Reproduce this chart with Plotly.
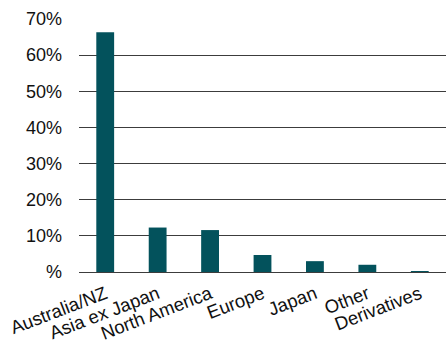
import plotly.graph_objects as go

categories = ["Australia/NZ", "Asia ex Japan", "North America", "Europe", "Japan", "Other", "Derivatives"]
values = [66.3, 12.3, 11.6, 4.7, 3.0, 2.0, 0.2]
tick_vals = [0, 10, 20, 30, 40, 50, 60, 70]
tick_text = ["%", "10%", "20%", "30%", "40%", "50%", "60%", "70%"]

fig = go.Figure(go.Bar(
    x=categories, y=values,
    marker=dict(color="#03525C", line=dict(width=0)),
))
fig.update_layout(
    width=446, height=342,
    margin=dict(l=79, r=0, t=19, b=70),
    paper_bgcolor="white", plot_bgcolor="white",
    bargap=0.66,
    showlegend=False,
    font=dict(family="Liberation Sans, Arial, sans-serif", size=16, color="#111111"),
)
fig.update_yaxes(
    range=[0, 70], tickvals=tick_vals, ticktext=tick_text,
    showgrid=True, gridcolor="#3c3c3c", gridwidth=1.3,
    zeroline=True, zerolinecolor="#3c3c3c", zerolinewidth=1.3,
    showline=False, ticks="", ticklabelstandoff=16,
    tickfont=dict(size=18), automargin=False,
)
fig.update_xaxes(
    tickangle=-21, showgrid=False, showline=False, ticks="",
    tickfont=dict(size=18.5), ticklabelstandoff=7, automargin=False,
)
fig.write_html("out.html")
